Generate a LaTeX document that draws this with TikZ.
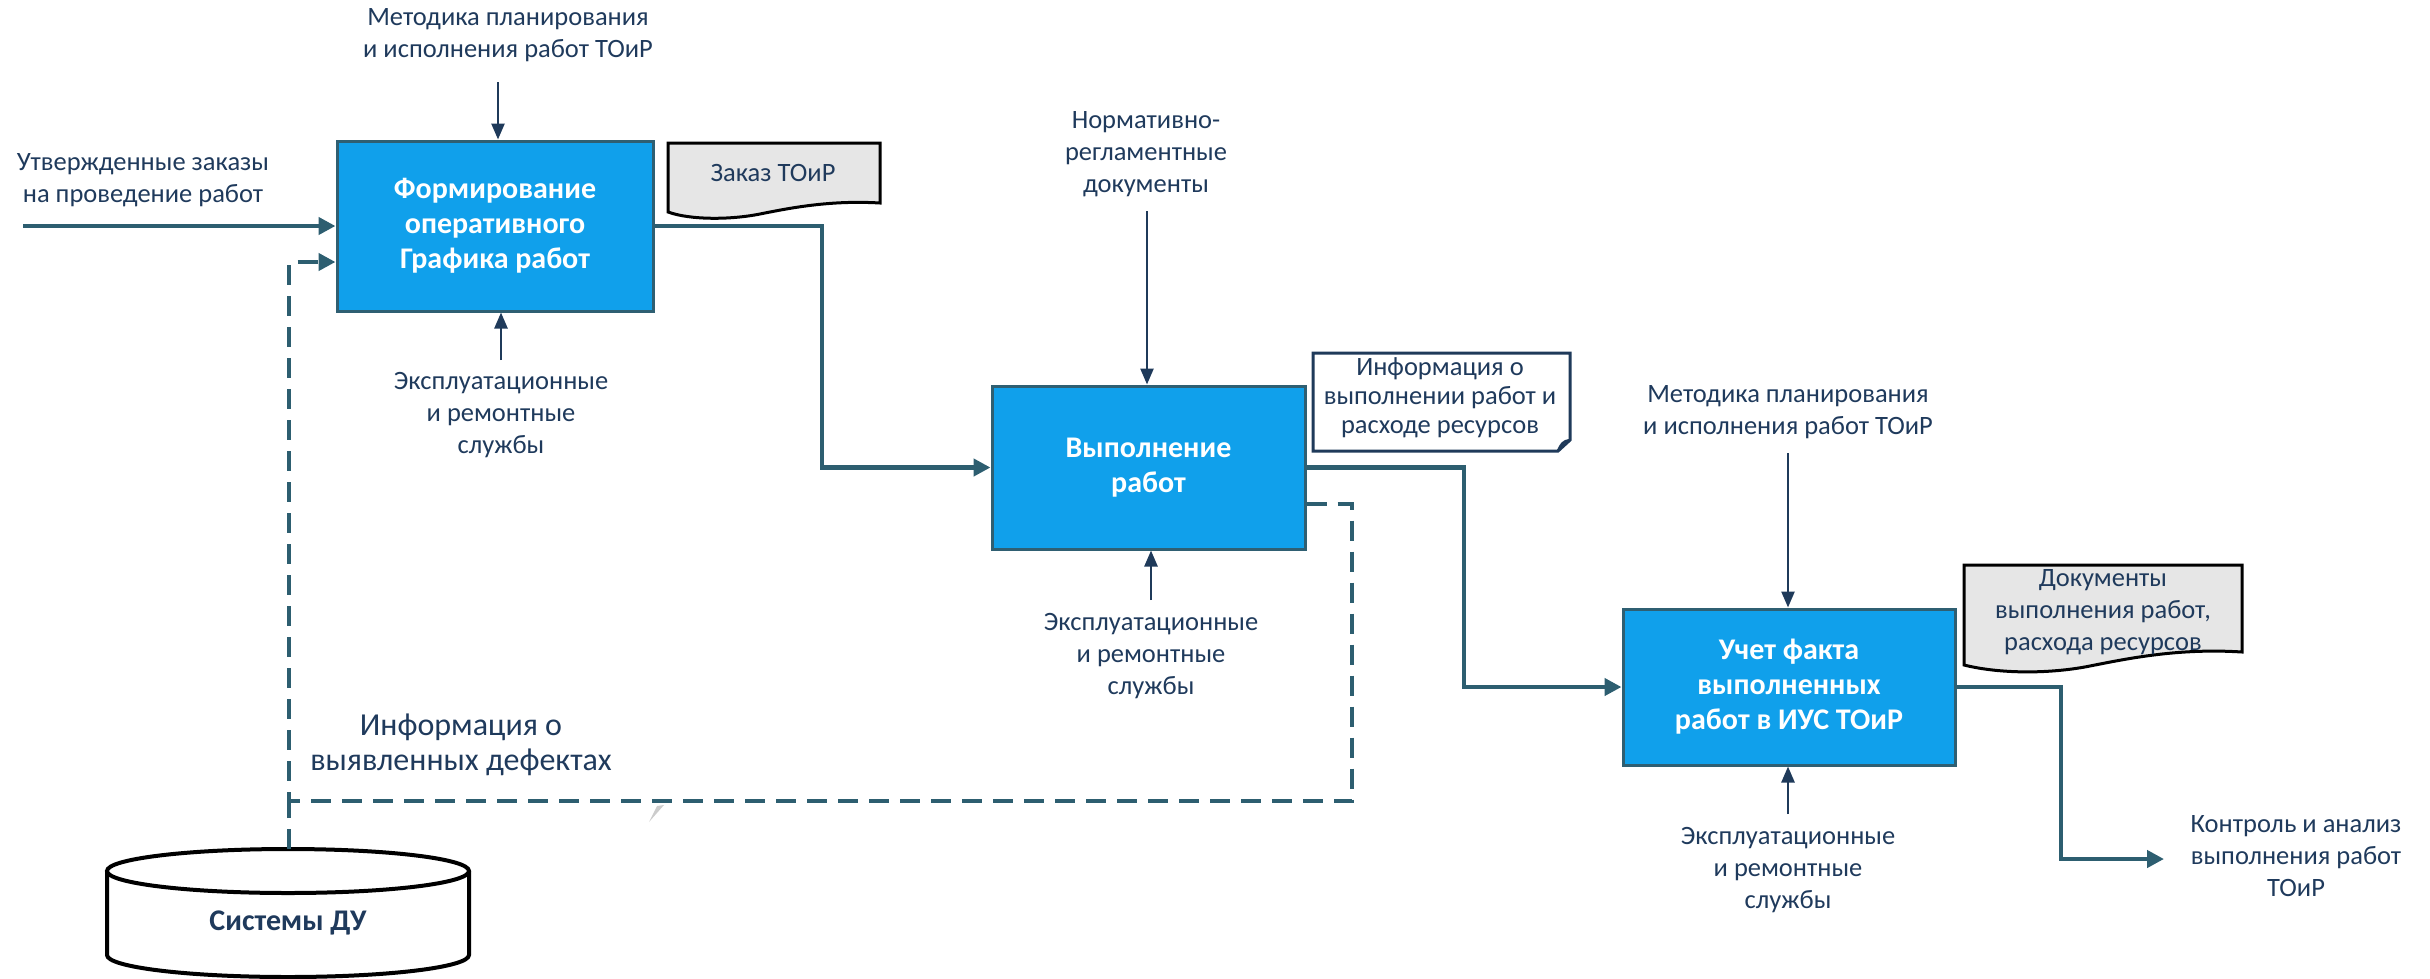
\documentclass[tikz,border=0pt]{standalone}
\usepackage{fontspec}
\setmainfont{Carlito}
\usetikzlibrary{arrows.meta}
\definecolor{txt}{HTML}{1F3A5C}
\definecolor{flowc}{HTML}{2D5E70}
\definecolor{ctrlc}{HTML}{1F3A5A}
\definecolor{boxfill}{HTML}{10A0EB}
\definecolor{boxdraw}{HTML}{2F5F72}
\definecolor{docfill}{HTML}{E6E6E6}
\definecolor{notedraw}{HTML}{1F3A5A}
\begin{document}
\begin{tikzpicture}[x=1pt,y=-1pt,
  proc/.style={draw=boxdraw, line width=3pt, fill=boxfill, text=white,
    font=\bfseries\fontsize{30}{35}\selectfont, align=center, inner sep=0pt},
  lbl/.style={text=txt, font=\fontsize{26.5}{32}\selectfont, align=center, inner sep=0pt},
  notelbl/.style={text=txt, font=\fontsize{26.5}{29}\selectfont, align=center, inner sep=0pt},
  biglbl/.style={text=txt, font=\fontsize{32}{35}\selectfont, align=center, inner sep=0pt},
  flow/.style={draw=flowc, line width=4.5pt, -{Triangle[length=17pt,width=17pt]}},
  ctrl/.style={draw=ctrlc, line width=2.5pt, -{Triangle[length=16pt,width=13pt]}},
  dashflow/.style={draw=flowc, line width=4.5pt, dash pattern=on 20pt off 11pt, -{Triangle[length=17pt,width=17pt]}},
  dashline/.style={draw=flowc, line width=4.5pt, dash pattern=on 20pt off 11pt},
  docshape/.style={draw=black, line width=3pt, fill=docfill},
  notebox/.style={draw=notedraw, line width=3pt, fill=white}
]
\useasboundingbox (0,0) rectangle (2430,978);

% process boxes
\node[proc, minimum width=316pt, minimum height=170pt] (b1) at (495,226) {Формирование\\оперативного\\Графика работ};
\node[proc, minimum width=313pt, minimum height=163pt] (b2) at (1148.5,467.5) {Выполнение\\работ};
\node[proc, minimum width=332pt, minimum height=156pt] (b3) at (1789,687) {Учет факта\\выполненных\\работ в ИУС ТОиР};

% labels
\node[lbl] (l1t) at (508,35) {Методика планирования\\и исполнения работ ТОиР};
\node[lbl] (lin) at (143,180) {Утвержденные заказы\\на проведение работ};
\node[lbl] (l1b) at (501,415) {Эксплуатационные\\и ремонтные\\службы};
\node[lbl] (l2t) at (1146,154) {Нормативно-\\регламентные\\документы};
\node[lbl] (l2b) at (1151,656) {Эксплуатационные\\и ремонтные\\службы};
\node[lbl] (l3t) at (1788,412) {Методика планирования\\и исполнения работ ТОиР};
\node[lbl] (l3b) at (1788,870) {Эксплуатационные\\и ремонтные\\службы};
\node[lbl] (lout) at (2296,856) {Контроль и анализ\\выполнения работ\\ТОиР};
\node[biglbl] (ldef) at (461,745) {Информация о\\выявленных дефектах};

% documents
\draw[docshape] (668,143) -- (880,143) -- (880,203) .. controls (830,200) and (790,208) .. (760,214) .. controls (730,220) and (690,220) .. (668,212) -- cycle;
\node[lbl] (d1) at (773,173) {Заказ ТОиР};
\draw[docshape] (1964,565) -- (2242,565) -- (2242,652) .. controls (2180,648) and (2130,658) .. (2090,666) .. controls (2050,674) and (2000,674) .. (1964,665) -- cycle;
\node[lbl] (d3) at (2103,612) {Документы\\выполнения работ,\\расхода ресурсов};

% note with folded corner
\draw[notebox] (1313,353) -- (1570,353) -- (1570,440) -- (1558,451) -- (1313,451) -- cycle;
\draw[notedraw, line width=2.5pt] (1570,440) .. controls (1563,441) and (1561,444) .. (1558,451);
\node[notelbl] (d2) at (1440,398) {Информация о\\выполнении работ и\\расходе ресурсов};

% database cylinder
\draw[line width=4pt, fill=white] (107,871) -- (107,955) arc[start angle=180, end angle=360, x radius=181pt, y radius=22pt] -- (469,871);
\draw[line width=4pt, fill=white] (288,871) ellipse [x radius=181pt, y radius=22pt];
\node[text=txt, font=\bfseries\fontsize{30}{35}\selectfont, inner sep=0pt] (du) at (288,923) {Системы ДУ};
\coordinate (dutop) at (289,849);

% small grey mark
\fill[gray!40] (649,822) -- (657,806) -- (664,805) -- cycle;

% coordinates
\coordinate (in0) at (23,226);
\coordinate (c1t) at (498,82);
\coordinate (c1b) at (501,360);
\coordinate (c2t) at (1147,211);
\coordinate (c2b) at (1151,600);
\coordinate (c3t) at (1788,453);
\coordinate (c3b) at (1788,814);
\coordinate (k1) at (822,350);
\coordinate (k2) at (1464,600);
\coordinate (k3) at (2061,800);
\coordinate (oute) at (2164,859);
\coordinate (dk) at (1352,801);
\coordinate (dj) at (289,801);

% flows
\draw[flow] (in0) -- (b1);
\draw[flow] (b1.east) -| (k1) |- (b2.west);
\draw[flow] (b2.east) -| (k2) |- (b3.west);
\draw[flow] (b3.east) -| (k3) |- (oute);

% controls / mechanisms
\draw[ctrl] (c1t) -- (c1t |- b1.north);
\draw[ctrl] (c1b) -- (c1b |- b1.south);
\draw[ctrl] (c2t) -- (c2t |- b2.north);
\draw[ctrl] (c2b) -- (c2b |- b2.south);
\draw[ctrl] (c3t) -- (c3t |- b3.north);
\draw[ctrl] (c3b) -- (c3b |- b3.south);

% dashed feedback
\draw[dashflow] ([yshift=-36.5pt]b2.east) -| (dk) -- (dj) |- ([yshift=-36pt]b1.west);
\draw[dashline] (dutop) -- (dj);
\end{tikzpicture}
\end{document}
